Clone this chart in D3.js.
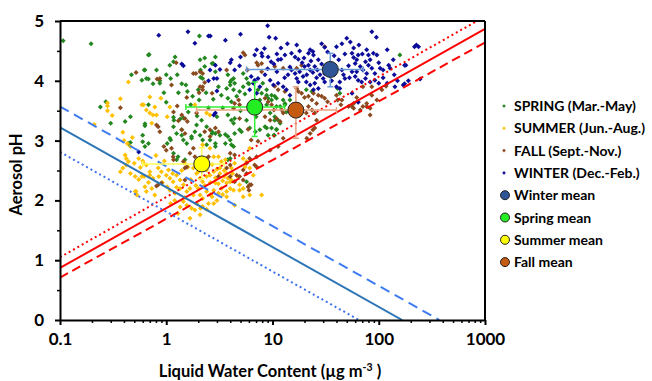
<!DOCTYPE html>
<html>
<head>
<meta charset="utf-8">
<script src="https://cdn.jsdelivr.net/npm/d3@7"></script>
<style>
  body { margin: 0; background: #fff; }
  text { font-family: Lato, "Open Sans", sans-serif; font-weight: bold; }
</style>
</head>
<body>
<div id="chart"></div>
<script>
const WIDTH = 652;
const HEIGHT = 381;

// [LWC (ug m-3), pH]
const spring = [[0.107,4.67],[0.196,4.62],[0.27,3.65],[0.24,3.56],[0.69,4.44],[1.21,4.40],[1.08,4.26],[2.05,4.75],[2.3,4.38],[2.7,4.29],[2.9,4.40],[2.1,4.18],[0.62,4.18],[0.47,4.10],[1.27,4.10],[1.0,4.10],[0.68,4.03],[0.75,3.95],[0.87,4.00],[2.1,4.06],[1.53,3.93],[1.58,3.82],[1.77,3.74],[2.04,3.68],[2.37,3.80],[2.77,3.69],[3.3,3.76],[0.46,3.40],[0.68,3.60],[1.0,3.64],[1.17,3.39],[1.18,3.34],[1.35,3.36],[1.45,3.38],[0.41,3.32],[0.63,3.28],[1.95,3.41],[1.61,3.48],
  [3.8,4.10],[4.1,4.01],[4.0,3.93],[4.4,3.96],[5.3,4.12],[5.7,4.04],[5.9,3.96],[3.7,3.87],[4.3,3.85],[4.9,3.82],[5.5,3.78],[3.8,3.71],[4.1,3.65],[4.6,3.74],[7.3,3.85],[7.9,3.79],[8.8,3.76],[9.1,3.71],[9.8,3.68],[10.5,3.74],[10.9,3.57],[11.8,3.57],[13.1,3.62],[13.5,3.48],[10.5,3.40],[11.3,3.34],[3.8,3.43],[4.4,3.37],[4.1,3.34],[20.8,3.85],[23.5,3.82],[41,3.87],[43,3.79],[158,4.43],
  [0.46,2.97],[0.60,3.09],[0.60,2.98],[0.63,3.25],[1.02,2.95],[1.08,3.04],[1.25,2.68],[1.29,2.73],[1.4,3.09],[1.45,3.01],[1.86,3.15],[2.08,3.09],[2.2,3.01],[2.4,2.93],[2.58,3.01],[2.9,2.95],[1.5,2.68],[1.73,3.04],
  [4.9,3.18],[5.1,3.15],[4.4,3.12],[6.9,3.15],[8.8,3.21],[9.8,3.21],[10.9,3.19],[9.1,3.09],[10.4,3.09],[3.6,3.10],[3.8,3.07],[4.1,2.93],[4.3,2.90],[3.8,2.68],[4.0,2.70],[5.7,2.31],
  [0.30,3.29],[0.44,2.95],[0.68,4.43],[0.63,4.18],[0.81,4.18],[0.59,4.01],[0.65,4.04],[0.87,3.96],[1.1,4.04],[1.17,4.32],[0.63,2.90],[0.68,2.95],[1.17,3.23],[1.25,3.12],[1.4,3.18],[1.56,2.95],[1.73,3.07],[1.1,3.01],[1.17,2.79],[1.93,3.26],[2.15,3.34],[2.4,3.23],[2.7,3.15],[2.9,3.12],
  [2.08,4.35],[2.3,4.24],[2.77,4.29],[2.9,4.15],[2.2,4.04],[4.0,3.98],[4.3,4.04],[5.3,3.90],[8.1,3.96],[8.8,3.85],[9.8,3.76],[10.9,3.71],[12.6,3.68],[14.6,3.68],[13.1,3.60],[8.8,3.60],[7.6,3.68],[9.5,3.46],[10.5,3.34],[11.8,3.29],[8.5,3.23],[7.6,3.18],[10.9,3.18],[10.3,3.09],[5.7,3.34],[6.1,3.21],[4.3,3.29],[2.7,3.12],[3.2,3.09],[3.6,2.95],[4.0,3.01],[2.9,2.90],
  [1.3,3.80],[1.7,3.60],[2.5,3.55],[3.0,3.40],[3.4,3.55],[5.0,3.50],[6.0,3.95],[7.0,3.40],[2.0,3.85],[1.4,3.95],[0.95,3.80],[3.1,3.90]];

const summer = [[0.28,3.63],[0.28,3.50],[0.31,3.42],[0.21,3.27],[0.44,3.98],[0.28,3.58],[0.37,3.70],[0.70,3.73],[0.61,3.60],[0.78,3.56],[0.89,3.71],[0.70,3.46],[0.81,3.43],[1.08,3.56],[1.02,3.40],[0.73,3.29],[1.86,3.60],[2.4,3.46],[2.58,3.43],
  [0.39,3.14],[0.41,2.76],[0.42,2.70],[0.42,2.59],[0.44,2.65],[0.51,2.40],[0.59,2.40],[0.70,2.42],[0.75,2.37],[0.61,2.62],[0.65,2.59],[0.70,2.48],[0.63,2.23],[0.65,2.15],[0.73,2.20],[0.78,2.09],[0.51,2.15],[0.53,2.09],[0.84,2.54],[0.9,2.48],[1.0,2.42],[1.05,2.51],[1.08,2.37],[1.16,2.31],[1.25,2.42],[1.35,2.34],[1.02,2.23],[1.08,2.17],[1.21,2.12],[1.35,2.20],[1.45,2.26],[1.56,2.15],[1.67,2.20],[1.8,2.09],[1.93,2.45],[2.08,2.37],[2.2,2.31],[2.4,2.40],[2.58,2.42],[1.8,2.54],[2.0,2.48],[2.4,2.51],[2.8,2.48],[3.2,2.54],[1.45,1.98],[1.56,1.92],[1.73,1.87],[1.93,1.95],[2.08,2.09],[2.2,2.03],[2.4,2.15],[2.7,2.06],[2.8,2.17],[3.1,2.12],[3.3,2.20],[2.9,2.29],[1.35,1.89],[1.29,1.78],[1.86,1.84],[2.08,1.76],[2.1,1.87],[1.67,1.70],[1.5,2.62],[1.6,2.56],[2.4,2.70],[2.8,2.73],[3.3,2.65],[0.39,2.54],[0.37,2.48],
  [6.1,2.87],[5.3,2.70],[5.7,2.65],[5.5,2.56],[6.1,2.54],[6.6,2.42],[3.7,2.45],[3.8,2.37],[4.1,2.34],[3.7,2.29],[4.0,2.20],[4.3,2.17],[4.9,2.17],[5.3,2.20],[3.7,2.15],[5.3,2.06],[7.9,2.09],[4.4,1.92],
  [0.52,2.15],[2.2,2.93],[2.58,2.87],[3.1,2.73],[3.6,2.68],[4.1,2.54],[3.2,2.45],[4.0,2.31],[4.9,2.26],[6.1,2.09],[3.7,2.06],
  [0.59,3.60],[0.65,3.51],[0.75,3.43],[0.40,3.0],[0.43,2.95],[0.46,2.90],[0.48,3.05],[0.50,2.62],[0.55,2.70],[0.60,2.66],[0.55,2.35],[0.62,2.40],[0.68,2.30],
  [2.3,2.25],[2.6,2.30],[2.9,2.38],[3.4,2.33],[3.0,2.00],[2.5,1.95],[2.2,1.90],[3.5,2.50],[4.4,2.62],[4.7,2.40],[1.2,2.0],[1.1,1.95],[1.9,2.25],[2.3,2.58],[2.7,2.60],[3.0,2.52],
  [0.92,2.30],[1.15,2.45],[1.4,2.50],[1.7,2.35],[2.0,2.20],[2.6,2.10],[3.1,2.28],[3.5,2.40],[4.2,2.45],[1.25,2.22],[0.85,2.40],[1.5,2.05],[2.4,1.85],[2.8,1.95],[3.4,2.10],[1.9,2.60],[0.96,2.66],[0.8,2.75],[0.57,2.55],[0.46,2.45]];

const fall = [[1.24,4.30],[1.8,4.12],[1.9,4.12],[0.52,4.14],[0.82,4.03],[0.87,4.04],[2.3,3.97],[2.2,3.90],[1.12,3.93],[1.56,3.72],[2.04,3.80],[2.7,3.79],[0.37,3.55],[1.27,3.58],[1.3,3.33],[1.58,3.32],
  [5.3,4.47],[5.5,4.43],[3.7,4.18],[5.8,4.18],[7.1,4.30],[7.3,4.26],[10.5,4.24],[12.6,4.21],[18.8,4.26],[16.9,4.21],[31,4.57],[10.5,3.91],[11.3,3.85],[13.1,3.82],[16.9,3.87],[17.5,3.82],[18.8,3.79],[20,3.72],[21.8,3.74],[24.3,3.79],[27,3.76],[29,3.74],[31,3.71],[33,3.65],[26,3.62],[23.5,3.68],[8.5,3.71],[9.1,3.65],[9.8,3.60],[10.3,3.51],[4.8,3.68],[4.9,3.60],[4.4,3.62],[12.2,3.51],[12.6,3.46],[10.9,3.37],[11.8,3.32],[21.8,3.57],[23.5,3.51],[25,3.46],[20.8,3.46],[41,3.68],[44,3.60],[8.5,3.40],[9.5,3.34],[4.3,3.54],[4.9,3.37],
  [62,3.72],[64,3.65],[71,3.57],[77,3.62],[83,3.54],[56,3.57],[58,3.54],[86,3.76],[96,3.68],[71,3.90],[86,3.90],[107,3.85],[117,3.91],
  [0.84,3.23],[0.87,3.15],[0.95,2.90],[1.0,2.84],[1.12,2.87],[1.16,2.73],[1.4,3.18],[1.5,3.12],[2.58,3.18],[2.9,3.21],[3.1,3.15],[1.8,2.87],[1.67,2.79],[1.17,2.68],[1.45,2.65],[1.5,2.54],[0.84,2.26],[0.9,2.29],[1.5,2.34],[3.1,2.40],
  [5.9,3.19],[6.3,3.01],[7.3,2.99],[4.0,2.79],[4.4,2.76],[4.0,2.59],[7.1,2.73],[6.8,2.59],[7.1,2.56],[4.6,2.42],[4.9,2.40],[4.4,2.31],[5.9,2.23],[6.3,2.26],[24,3.18],[3.7,2.54],
  [0.81,2.24],[0.81,3.26],[1.17,3.48],[1.4,3.43],[1.5,3.37],[2.08,4.15],[2.2,4.12],[2.08,3.90],[2.2,3.85],[1.93,3.46],[2.3,3.15],[2.58,3.07],[2.5,2.73],[1.86,2.73],[1.56,2.56],
  [5.3,2.34],[6.1,2.26],[5.7,2.45],[7.9,4.29],[7.9,4.15],[40,3.76],[45,3.68],[52,3.57],[58,3.62],[67,3.51],[77,3.57],[83,3.43],[26,3.34],[25,3.21],[22.6,3.12],[21,3.04],[12.6,3.04],[11.3,2.90],[9.5,2.84],[6.1,2.70],[5.7,2.62],[5.3,2.51],[4.0,2.40],[6.0,2.17]];

const winter = [[0.85,4.76],[1.6,4.82],[2.5,4.75],[1.86,4.63],[1.4,4.28],[1.45,4.25],[3.2,4.19],[2.5,4.0],[2.8,4.04],[3.0,4.04],[3.0,3.83],[2.8,3.43],[0.55,2.81],
  [9.0,4.92],[5.0,4.78],[9.3,4.73],[10.7,4.71],[8.4,4.54],[7.1,4.52],[13.8,4.62],[16.9,4.60],[29,4.62],[40,4.57],[45,4.62],[50,4.71],[31,4.56],[22.6,4.52],[24,4.49],[21.8,4.46],[24.3,4.43],[4.1,4.35],[4.0,4.30],[6.8,4.43],[7.9,4.46],[8.0,4.41],[5.0,4.40],[4.9,4.25],[9.1,4.40],[9.7,4.32],[10.3,4.28],[11.3,4.35],[12.0,4.36],[13.1,4.43],[15.1,4.46],[16.3,4.40],[17.5,4.36],[19,4.30],[19.8,4.38],[20,4.24],[21.8,4.26],[22.6,4.18],[24,4.14],[25,4.24],[26.4,4.18],[28,4.10],[30,4.04],[31,4.12],[31,3.98],[45,4.18],[46.6,4.10],[43,3.98],[48,4.04],[40,3.90],[14.6,4.23],[15.1,4.18],[16.3,4.12],[14,4.10],[16.9,4.04],[17.5,3.98],[19.4,4.07],[20.8,3.98],[22.6,3.93],[25,3.96],[27,3.87],[24.3,3.85],[6.3,4.07],[6.8,4.01],[6.6,3.96],[7.3,4.04],[6.1,3.85],[7.1,3.79],[7.6,3.90],[9.5,4.01],[10.2,3.93],[11.3,3.96],[12.6,3.90],[13.5,3.85],[14.6,3.76],[4.4,4.18],[43,3.87],
  [86,4.82],[95,4.73],[54,4.65],[56,4.46],[58,4.39],[62,4.35],[64,4.43],[60,4.29],[77,4.52],[80,4.43],[89,4.46],[96,4.43],[83,4.35],[75,4.32],[120,4.52],[67,4.24],[71,4.18],[80,4.26],[86,4.21],[92,4.12],[77,4.12],[56,4.15],[60,4.07],[64,4.01],[69,3.98],[75,4.04],[83,3.98],[92,4.01],[100,3.96],[110,4.18],[124,4.26],[128,4.21],[137,4.35],[175,4.26],[217,4.57],[226,4.60],[237,4.57],[120,3.96],[142,3.90],[175,3.95],[56,3.79],[64,3.64],[103,4.21],[180,4.26],[170,3.93],
  [2.6,4.75],[3.6,4.68],[2.58,4.18],[2.9,4.26],[2.9,3.46],
  [35,4.30],[38,4.42],[33,4.48],[27,4.35],[18,4.50],[12,4.55],[11,4.15],[13,4.05],[36,4.0],[52,4.25],[58,4.55],[65,4.60],[70,4.45],[100,4.30],[110,4.05],[140,4.10],[150,4.0],[190,4.0],[245,4.03],
  [18,4.15],[21,4.10],[23,4.33],[26,4.05],[29,4.28],[33,4.20],[38,4.10],[42,4.35],[48,4.45],[53,4.05],[62,4.15],[11,4.45],[9,4.20],[8.5,4.10]];

// seasonal means with error bars: lwc, ph, lwc low/high, ph low/high
const meanNames = ["Winter mean", "Spring mean", "Summer mean", "Fall mean"];
const meanLwc = [35, 6.8, 2.16, 16.6];
const meanPh = [4.19, 3.56, 2.61, 3.51];
const meanLwcLo = [5.7, 1.53, 0.60, 1.93];
const meanLwcHi = [71.6, 13, 3.5, 40];
const meanPhLo = [3.90, 3.07, 2.36, 3.04];
const meanPhHi = [4.46, 3.98, 2.88, 3.90];

// reference lines, endpoints [LWC, pH]
const redSolid = [[0.1, 0.87], [1000, 4.87]];
const redDashed = [[0.1, 0.71], [1000, 4.64]];
const redDotted = [[0.1, 1.05], [840, 5.0]];
const blueSolid = [[0.1, 3.22], [166, 0]];
const blueDashed = [[0.1, 3.57], [372, 0]];
const blueDotted = [[0.1, 2.81], [65, 0]];

const xMajor = [0.1, 1, 10, 100, 1000];
const xLabels = ["0.1", "1", "10", "100", "1000"];
const yMajor = [0, 1, 2, 3, 4, 5];
const yMinor = [0.5, 1.5, 2.5, 3.5, 4.5];

const seasonLabels = ["SPRING (Mar.-May)", "SUMMER (Jun.-Aug.)", "FALL (Sept.-Nov.)", "WINTER (Dec.-Feb.)"];

const seasonColors = ["#23871f", "#ffc000", "#8c4a1f", "#0c0c9a"];
const meanColors = ["#2f5597", "#22ee22", "#ffff00", "#c55a11"];
const barColors = ["#6a9ad4", "#33ee33", "#ffff55", "#e9a582"];

const PL = 60, PR = 485, PT = 21, PB = 320;

const svg = d3.select("#chart").append("svg")
    .attr("width", WIDTH)
    .attr("height", HEIGHT);

const x = d3.scaleLog().domain([0.1, 1000]).range([PL, PR]);
const y = d3.scaleLinear().domain([0, 5]).range([PB, PT]);

svg.append("clipPath").attr("id", "plot")
    .append("rect")
    .attr("x", PL).attr("y", PT)
    .attr("width", PR - PL).attr("height", PB - PT);

// scatter
const diamond = "M0,-2.5L2.5,0L0,2.5L-2.5,0Z";
[spring, summer, fall, winter].forEach((pts, i) => {
    svg.append("g").selectAll("path")
        .data(pts)
        .join("path")
        .attr("d", diamond)
        .attr("transform", d => `translate(${x(d[0])},${y(d[1])})`)
        .attr("fill", seasonColors[i]);
});

// lines
const line = d3.line().x(d => x(d[0])).y(d => y(d[1]));
const lines = [
    [redSolid, "#ff0000", null],
    [redDashed, "#ff0000", "9,5"],
    [redDotted, "#ff0000", "2,3"],
    [blueSolid, "#2e75b6", null],
    [blueDashed, "#3f7cf2", "10,6"],
    [blueDotted, "#3f72f0", "2,3"]
];
const lineG = svg.append("g").attr("clip-path", "url(#plot)");
lines.forEach(([pts, color, dash]) => {
    lineG.append("path")
        .attr("d", line(pts))
        .attr("fill", "none")
        .attr("stroke", color)
        .attr("stroke-width", 2)
        .attr("stroke-dasharray", dash);
});

// error bars
const cap = 3;
meanNames.forEach((name, i) => {
    const g = svg.append("g")
        .attr("stroke", barColors[i])
        .attr("stroke-width", 1.5);
    const cx = x(meanLwc[i]), cy = y(meanPh[i]);
    const x0 = x(meanLwcLo[i]), x1 = x(meanLwcHi[i]);
    const y0 = y(meanPhLo[i]), y1 = y(meanPhHi[i]);
    g.append("line").attr("x1", x0).attr("x2", x1).attr("y1", cy).attr("y2", cy);
    g.append("line").attr("x1", x0).attr("x2", x0).attr("y1", cy - cap).attr("y2", cy + cap);
    g.append("line").attr("x1", x1).attr("x2", x1).attr("y1", cy - cap).attr("y2", cy + cap);
    g.append("line").attr("x1", cx).attr("x2", cx).attr("y1", y0).attr("y2", y1);
    g.append("line").attr("x1", cx - cap).attr("x2", cx + cap).attr("y1", y0).attr("y2", y0);
    g.append("line").attr("x1", cx - cap).attr("x2", cx + cap).attr("y1", y1).attr("y2", y1);
});

// means
svg.append("g").selectAll("circle")
    .data(meanNames)
    .join("circle")
    .attr("cx", (d, i) => x(meanLwc[i]))
    .attr("cy", (d, i) => y(meanPh[i]))
    .attr("r", 8)
    .attr("fill", (d, i) => meanColors[i])
    .attr("stroke", "#222")
    .attr("stroke-width", 1);

// frame top/right
svg.append("line").attr("x1", PL).attr("x2", PR).attr("y1", PT).attr("y2", PT)
    .attr("stroke", "#000").attr("stroke-width", 2);
svg.append("line").attr("x1", PR).attr("x2", PR).attr("y1", PT).attr("y2", PB)
    .attr("stroke", "#000").attr("stroke-width", 2);

// axes
const xMinor = x.ticks().filter(v => !xMajor.some(m => Math.abs(m - v) < 1e-9));
svg.append("g")
    .attr("transform", `translate(0,${PB})`)
    .call(d3.axisBottom(x).tickValues(xMinor).tickSize(3).tickFormat(""))
    .call(g => g.select(".domain").remove())
    .call(g => g.selectAll("line").attr("stroke-width", 1.5));
const xAxis = svg.append("g")
    .attr("transform", `translate(0,${PB})`)
    .call(d3.axisBottom(x).tickValues(xMajor).tickSizeInner(5).tickSizeOuter(0)
        .tickPadding(8).tickFormat((d, i) => xLabels[i]));
xAxis.select(".domain").attr("stroke-width", 2);
xAxis.selectAll("line").attr("stroke-width", 2);
xAxis.selectAll("text").attr("font-size", 17).attr("fill", "#000")
    .attr("font-family", "Lato, sans-serif").attr("font-weight", "bold");

svg.append("g")
    .attr("transform", `translate(${PL},0)`)
    .call(d3.axisLeft(y).tickValues(yMinor).tickSize(3).tickFormat(""))
    .call(g => g.select(".domain").remove())
    .call(g => g.selectAll("line").attr("stroke-width", 1.5));
const yAxis = svg.append("g")
    .attr("transform", `translate(${PL},0)`)
    .call(d3.axisLeft(y).tickValues(yMajor).tickSizeInner(5).tickSizeOuter(0)
        .tickPadding(11).tickFormat(d3.format("d")));
yAxis.select(".domain").attr("stroke-width", 2);
yAxis.selectAll("line").attr("stroke-width", 2);
yAxis.selectAll("text").attr("font-size", 17).attr("fill", "#000")
    .attr("font-family", "Lato, sans-serif").attr("font-weight", "bold");

// axis titles
svg.append("text")
    .attr("transform", `translate(22,${(PT + PB) / 2 + 4}) rotate(-90)`)
    .attr("text-anchor", "middle")
    .attr("font-size", 16.5)
    .text("Aerosol pH");

const xt = svg.append("text")
    .attr("x", 270)
    .attr("y", 377)
    .attr("text-anchor", "middle")
    .attr("font-size", 16.5);
xt.append("tspan").text("Liquid Water Content (µg m");
xt.append("tspan").attr("font-size", 10.5).attr("dy", -6).text("-3");
xt.append("tspan").attr("dy", 6).text("  )");

// legend
const legX = 504, legY0 = 106, legStep = 22.3;
seasonLabels.forEach((label, i) => {
    const ly = legY0 + i * legStep;
    svg.append("path")
        .attr("d", "M0,-1.8L1.8,0L0,1.8L-1.8,0Z")
        .attr("transform", `translate(${legX},${ly})`)
        .attr("fill", seasonColors[i]);
    svg.append("text")
        .attr("x", legX + 10).attr("y", ly + 5)
        .attr("font-size", 14)
        .text(label);
});
meanNames.forEach((name, i) => {
    const ly = legY0 + (i + 4) * legStep;
    svg.append("circle")
        .attr("cx", legX + 1).attr("cy", ly)
        .attr("r", 4.5)
        .attr("fill", meanColors[i])
        .attr("stroke", "#222")
        .attr("stroke-width", 1);
    svg.append("text")
        .attr("x", legX + 10).attr("y", ly + 5)
        .attr("font-size", 14)
        .text(name);
});
</script>
</body>
</html>
